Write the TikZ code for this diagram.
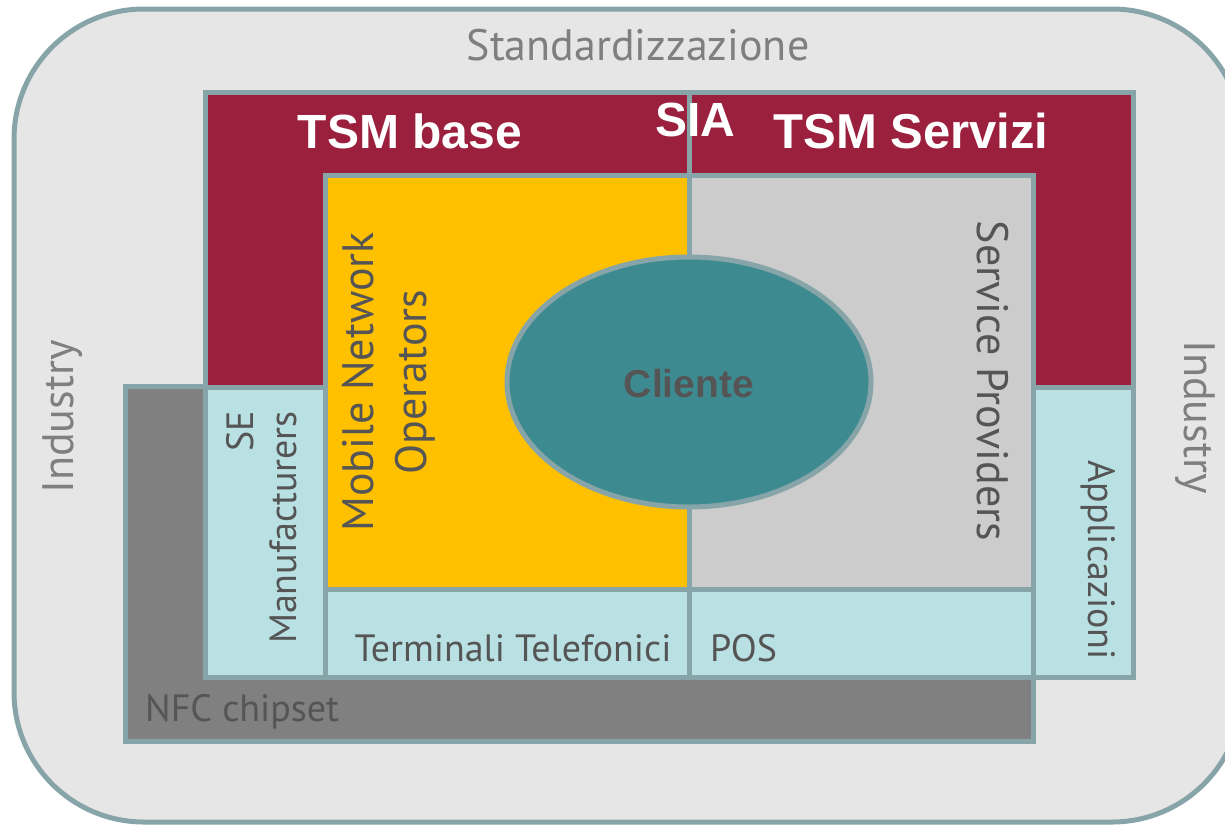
\documentclass[tikz,border=0pt]{standalone}
\usepackage{fontspec}
\setmainfont{PT Sans}
\newfontfamily\boldfont{Liberation Sans}[BoldFont={Liberation Sans Bold}]
\definecolor{edge}{HTML}{87A5A8}
\definecolor{outerfill}{HTML}{E6E6E6}
\definecolor{tsmred}{HTML}{9B203E}
\definecolor{mnoyellow}{HTML}{FFC000}
\definecolor{spgray}{HTML}{CCCCCC}
\definecolor{lightblue}{HTML}{B9E0E3}
\definecolor{nfcgray}{HTML}{808080}
\definecolor{clientteal}{HTML}{3D8B91}
\definecolor{lighttext}{HTML}{7F7F7F}
\definecolor{darktext}{HTML}{555555}
\tikzset{
  box/.style={draw=edge, line width=5pt, line join=miter},
  lbl/.style={inner sep=0pt, text=darktext, font=\fontsize{38}{43}\selectfont},
  biglbl/.style={inner sep=0pt, text=darktext, font=\fontsize{44}{53}\selectfont},
  outerlbl/.style={inner sep=0pt, text=lighttext, font=\fontsize{44}{53}\selectfont},
  boldlbl/.style={inner sep=0pt, text=white, font=\boldfont\bfseries\fontsize{48}{56}\selectfont},
}
\begin{document}
\begin{tikzpicture}[x=1pt,y=-1pt]
\useasboundingbox (0,0) rectangle (1225,825);
% outer frame
\draw[box, fill=outerfill, rounded corners=130pt] (14,9) rectangle (1242,822);
% NFC chipset
\draw[box, fill=nfcgray] (125,386) rectangle (1033,741);
% TSM base / TSM Servizi
\draw[box, fill=tsmred] (205,92) rectangle (689,387);
\draw[box, fill=tsmred] (689,92) rectangle (1133,387);
% SE Manufacturers
\draw[box, fill=lightblue] (205,387) rectangle (325,677);
% Mobile Network Operators
\draw[box, fill=mnoyellow] (325,175) rectangle (689,589);
% Service Providers
\draw[box, fill=spgray] (689,175) rectangle (1033,589);
% Terminali / POS
\draw[box, fill=lightblue] (325,589) rectangle (689,677);
\draw[box, fill=lightblue] (689,589) rectangle (1033,677);
% Applicazioni
\draw[box, fill=lightblue] (1033,387) rectangle (1133,677);
% Cliente
\draw[box, fill=clientteal] (689,382) ellipse [x radius=182, y radius=125];

% labels
\node[outerlbl] (std) at (638,45) {Standardizzazione};
\node[outerlbl, rotate=90] (indl) at (63,417) {Industry};
\node[outerlbl, rotate=-90] (indr) at (1195,417) {Industry};
\node[boldlbl] (tsmb) at (410,131) {TSM base};
\node[boldlbl] (sia) at (695,120) {SIA};
\node[boldlbl, font=\boldfont\bfseries\fontsize{49}{56}\selectfont] (tsms) at (911,131) {TSM Servizi};
\node[biglbl, rotate=90, align=center] (mno) at (389,382) {Mobile Network\\Operators};
\node[biglbl, rotate=-90] (sp) at (993,381) {Service Providers};
\node[lbl, rotate=90, anchor=east, align=right] (se) at (262,411) {SE\\Manufacturers};
\node[lbl, rotate=-90] (app) at (1098,560) {Applicazioni};
\node[lbl] (term) at (513,648) {Terminali Telefonici};
\node[lbl, anchor=west] (pos) at (710,648) {POS};
\node[lbl, anchor=west] (nfc) at (145,712) {NFC chipset};
\node[inner sep=0pt, text=darktext, font=\boldfont\bfseries\fontsize{39}{46}\selectfont] (cli) at (689,384) {Cliente};
\end{tikzpicture}
\end{document}
